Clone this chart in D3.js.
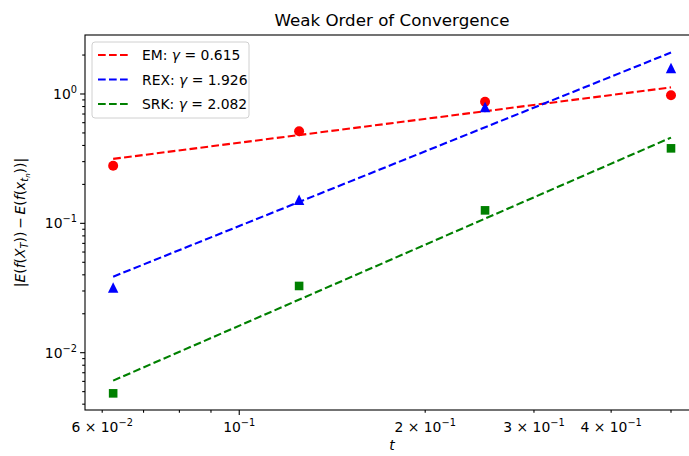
<!DOCTYPE html>
<html><head><meta charset="utf-8">
<script src="https://cdn.jsdelivr.net/npm/d3@7"></script>
<style>
body{margin:0;background:#fff;}
svg text{font-family:"DejaVu Sans",sans-serif;fill:#000;}
</style></head>
<body><svg id="c" width="689" height="456"></svg>
<script>
const tValues = [0.0625, 0.125, 0.25, 0.5];
const emErr  = [0.279, 0.515, 0.872, 0.977];
const rexErr = [0.0319, 0.152, 0.794, 1.59];
const srkErr = [0.00485, 0.0328, 0.126, 0.38];
const fitT   = [0.0625, 0.5];
const emFit  = [0.315, 1.125];
const rexFit = [0.0387, 2.09];
const srkFit = [0.00608, 0.46];
const seriesNames = ["EM", "REX", "SRK"];
const gammas = ["0.615", "1.926", "2.082"];
const xMajorTicks = [0.1];
const xMinorTicks = [0.06, 0.07, 0.08, 0.09, 0.2, 0.3, 0.4, 0.5, 0.6];
const xLabelTicks = [[0.06,"6","\u22122"],[0.1,null,"\u22121"],[0.2,"2","\u22121"],[0.3,"3","\u22121"],[0.4,"4","\u22121"]];
const yMajorTicks = [0.01, 0.1, 1];
const yLabels = ["\u22122", "\u22121", "0"];

const svg = d3.select("#c");
const L = 85, R = 699, T = 35, B = 410;
const x = d3.scaleLog().domain([Math.pow(10,-1.2497), Math.pow(10,-0.2557)]).range([L, R]);
const y = d3.scaleLog().domain([Math.pow(10,-2.443), Math.pow(10,0.456)]).range([B, T]);

const yMinor = [];
for (let e = -3; e <= 0; e++) for (let m = 2; m <= 9; m++) {
  const v = m * Math.pow(10, e);
  if (v > y.domain()[0] && v < y.domain()[1]) yMinor.push(v);
}

// ticks
const g = svg.append("g");
function tickX(vals, len){
  g.selectAll(null).data(vals).join("line")
    .attr("x1", d=>x(d)).attr("x2", d=>x(d)).attr("y1", B).attr("y2", B+len)
    .attr("stroke","#000").attr("stroke-width",1.1);
}
function tickY(vals, len){
  g.selectAll(null).data(vals).join("line")
    .attr("y1", d=>y(d)).attr("y2", d=>y(d)).attr("x1", L).attr("x2", L-len)
    .attr("stroke","#000").attr("stroke-width",1.1);
}
tickX(xMajorTicks, 4.9); tickX(xMinorTicks, 2.8);
tickY(yMajorTicks, 4.9); tickY(yMinor, 2.8);

// x tick labels
xLabelTicks.forEach(([v, m, e]) => {
  const t = g.append("text").attr("x", x(v)).attr("y", B+22).attr("text-anchor","middle").attr("font-size",13.9);
  if (m) t.append("tspan").text(m + " \u00d7 ");
  t.append("tspan").text("10");
  t.append("tspan").attr("dy",-6).attr("font-size",9.8).text(e);
});
// y tick labels
yMajorTicks.forEach((v,i) => {
  const t = g.append("text").attr("x", L-8).attr("y", y(v)+5).attr("text-anchor","end").attr("font-size",13.9);
  t.append("tspan").text("10");
  t.append("tspan").attr("dy",-6).attr("font-size",9.8).text(yLabels[i]);
});

// series
const colors = ["#ff0000", "#0000ff", "#008000"];
const errs = [emErr, rexErr, srkErr];
const fits = [emFit, rexFit, srkFit];
const plot = svg.append("g");
const line = d3.line().x(d=>x(d[0])).y(d=>y(d[1]));
fits.forEach((f,i) => {
  plot.append("path").attr("d", line(fitT.map((t,j)=>[t,f[j]])))
    .attr("fill","none").attr("stroke",colors[i]).attr("stroke-width",2.1)
    .attr("stroke-dasharray","7.7,3.3");
});
// markers
plot.selectAll(null).data(tValues.map((t,j)=>[t,emErr[j]])).join("circle")
  .attr("cx",d=>x(d[0])).attr("cy",d=>y(d[1])).attr("r",5).attr("fill",colors[0]);
const tr = 5.2;
plot.selectAll(null).data(tValues.map((t,j)=>[t,rexErr[j]])).join("path")
  .attr("d",d=>{const cx=x(d[0]), cy=y(d[1]); return `M${cx},${cy-tr}L${cx+tr},${cy+tr}L${cx-tr},${cy+tr}Z`;})
  .attr("fill",colors[1]);
const sq = 4.3;
plot.selectAll(null).data(tValues.map((t,j)=>[t,srkErr[j]])).join("rect")
  .attr("x",d=>x(d[0])-sq).attr("y",d=>y(d[1])-sq).attr("width",2*sq).attr("height",2*sq).attr("fill",colors[2]);

// spines
svg.append("rect").attr("x",L).attr("y",T).attr("width",R-L).attr("height",B-T)
  .attr("fill","none").attr("stroke","#000").attr("stroke-width",1.1);

// legend
const lg = svg.append("g");
lg.append("rect").attr("x",92).attr("y",42).attr("width",157).attr("height",76).attr("rx",3)
  .attr("fill","rgba(255,255,255,0.8)").attr("stroke","#d0d0d0").attr("stroke-width",1);
seriesNames.forEach((n,i) => {
  const yy = 55 + i*24.5;
  lg.append("line").attr("x1",98).attr("x2",129).attr("y1",yy).attr("y2",yy)
    .attr("stroke",colors[i]).attr("stroke-width",2.1).attr("stroke-dasharray","7.7,3.3");
  const t = lg.append("text").attr("x",142).attr("y",yy+5).attr("font-size",13.9);
  t.append("tspan").text(n + ": ");
  t.append("tspan").attr("font-style","italic").text("\u03b3");
  t.append("tspan").text(" = " + gammas[i]);
});

// title
svg.append("text").attr("x",(L+R)/2).attr("y",26).attr("text-anchor","middle").attr("font-size",16.7)
  .text("Weak Order of Convergence");
// x label
svg.append("text").attr("x",(L+R)/2).attr("y",450).attr("text-anchor","middle").attr("font-size",13.9)
  .attr("font-style","italic").text("t");
// y label
const yl = svg.append("text").attr("transform",`translate(25,${(T+B)/2}) rotate(-90)`)
  .attr("text-anchor","middle").attr("font-size",13.9);
const parts = [["|",0],["E",1],["(",0],["f",1],["(",0],["X",1]];
parts.forEach(([s,it]) => yl.append("tspan").attr("font-style",it?"italic":"normal").text(s));
yl.append("tspan").attr("font-style","italic").attr("font-size",9.8).attr("dy",3).text("T");
yl.append("tspan").attr("dy",-3).text("))\u2009\u2212\u2009");
[["E",1],["(",0],["f",1],["(",0],["x",1]].forEach(([s,it]) => yl.append("tspan").attr("font-style",it?"italic":"normal").text(s));
yl.append("tspan").attr("font-style","italic").attr("font-size",9.8).attr("dy",3).text("t");
yl.append("tspan").attr("font-style","italic").attr("font-size",7).attr("dy",2).text("n");
yl.append("tspan").attr("dy",-5).text("))|");
</script></body></html>
